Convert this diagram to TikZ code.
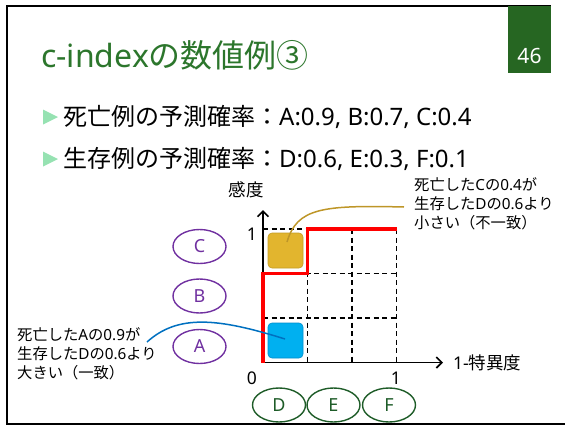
\documentclass[tikz,border=0pt]{standalone}
\usepackage{fontspec}
\setmainfont{Noto Sans CJK JP}
\newfontfamily\ltfont{Noto Sans}
\newcommand\LT[1]{{\ltfont #1}}
\usetikzlibrary{arrows.meta,shapes.geometric,calc}
\definecolor{boxgreen}{RGB}{38,102,34}
\definecolor{titlegreen}{RGB}{44,118,44}
\definecolor{bulgreen}{RGB}{150,226,178}
\definecolor{ellgreen}{RGB}{30,92,40}
\definecolor{ellpurple}{RGB}{112,48,160}
\definecolor{goldfill}{RGB}{226,181,46}
\definecolor{golddraw}{RGB}{196,156,36}
\definecolor{goldline}{RGB}{190,150,40}
\definecolor{bluefill}{RGB}{0,176,240}
\definecolor{bluedraw}{RGB}{0,140,204}
\definecolor{blueline}{RGB}{0,112,192}
\tikzset{
  fs/.style={font=\fontsize{#1}{#1}\selectfont},
  frameline/.style={line width=2pt, black},
  bullettri/.style={fill=bulgreen, draw=none},
  bullettext/.style={anchor=west, inner sep=0pt, fs=24},
  purpleell/.style={ellipse, draw=ellpurple, line width=1.4pt, text=ellpurple, minimum width=53pt, minimum height=34pt, inner sep=0pt, fs=18},
  greenell/.style={ellipse, draw=ellgreen, line width=1.4pt, text=ellgreen, minimum width=53pt, minimum height=34pt, inner sep=0pt, fs=18},
  gridline/.style={black, line width=1.9pt, dash pattern=on 5pt off 3.5pt},
  axisline/.style={black, line width=1.7pt, -{Straight Barb[length=5.5pt,width=11pt]}},
  redpath/.style={red, line width=3.6pt, line join=miter},
  sqbox/.style={rounded corners=4pt, minimum size=35pt, inner sep=0pt, line width=0.6pt},
  axlabel/.style={inner sep=0pt, fs=17.5},
  note/.style={align=left, inner sep=0pt, font=\fontsize{15.3}{19}\selectfont},
}
\begin{document}
\begin{tikzpicture}[x=1pt,y=-1pt]
\useasboundingbox (0,0) rectangle (565,426);
% slide frame
\coordinate (fTL) at (7,6);
\coordinate (fTR) at (551,6);
\coordinate (fBL) at (7,424);
\coordinate (fBR) at (565,424);
\draw[frameline] (fTR) -- (fTL) -- (fBL) -- (fBR);
% page number box
\node[fill=boxgreen, minimum width=43pt, minimum height=67pt, inner sep=0pt, anchor=north west] (pbox) at (508,6) {};
\node[text=white, fs=21, inner sep=0pt] (pnum) at (529.5,56) {\LT{46}};
% title
\node[anchor=base west, inner sep=0pt, text=titlegreen, fs=32] (title) at (41,67) {\LT{c-index}の数値例③};
% bullets
\fill[bullettri] (43,109.5) -- (58,117) -- (43,124.5) -- cycle;
\node[bullettext] (b1) at (63,117) {死亡例の予測確率：\LT{A:0.9, B:0.7, C:0.4}};
\fill[bullettri] (43,151.5) -- (58,159) -- (43,166.5) -- cycle;
\node[bullettext] (b2) at (63,159) {生存例の予測確率：\LT{D:0.6, E:0.3, F:0.1}};
% grid
\foreach \yy in {229,273.5,318} \draw[gridline] (263,\yy) -- (396.5,\yy);
\foreach \xx in {307.5,352,396.5} \draw[gridline] (\xx,229) -- (\xx,362.5);
% axes
\coordinate (orig) at (263,362.5);
\coordinate (ytip) at (263,210);
\coordinate (xtip) at (443,362.5);
\draw[axisline] (orig) -- (ytip);
\draw[axisline] (orig) -- (xtip);
% red curve
\draw[redpath] (263,362.5) -- (263,273.5) -- (307.5,273.5) -- (307.5,229) -- (396.5,229);
% axis labels
\node[axlabel] (ylab) at (246,190) {感度};
\node[axlabel, anchor=west] (xlab) at (453,363) {\LT{1-}特異度};
\node[axlabel] (y1) at (252,234) {\LT{1}};
\node[axlabel] (x0) at (252,378) {\LT{0}};
\node[axlabel] (x1) at (396,378) {\LT{1}};
% squares
\node[sqbox, fill=goldfill, draw=golddraw] (gsq) at (285.5,250.5) {};
\node[sqbox, fill=bluefill, draw=bluedraw] (bsq) at (285.5,340.5) {};
% ellipses
\node[purpleell] (C) at (199.5,246.5) {\LT{C}};
\node[purpleell] (B) at (199.5,296) {\LT{B}};
\node[purpleell] (A) at (199.5,346.5) {\LT{A}};
\node[greenell] (D) at (279,405) {\LT{D}};
\node[greenell] (E) at (333.5,405) {\LT{E}};
\node[greenell] (F) at (389,405) {\LT{F}};
% notes
\node[note, anchor=west] (gnote) at (414,204) {死亡した\LT{C}の\LT{0.4}が\\生存した\LT{D}の\LT{0.6}より\\小さい（不一致）};
\node[note, anchor=west] (bnote) at (17,353.5) {死亡した\LT{A}の\LT{0.9}が\\生存した\LT{D}の\LT{0.6}より\\大きい（一致）};
% callout curves
\coordinate (gstart) at ($(gsq.center)+(1.5,-8.5)$);
\coordinate (gend) at ($(gnote.west)+(-10,3)$);
\draw[goldline, line width=1.5pt] (gstart) .. controls (297,208) and (322,205) .. (gend);
\coordinate (bstart) at ($(bnote.west)+(130,-11.5)$);
\coordinate (bend) at ($(bsq.center)+(-0.5,-1.5)$);
\draw[blueline, line width=1.5pt] (bstart) .. controls (178,314) and (218,318) .. (bend);
\end{tikzpicture}
\end{document}
